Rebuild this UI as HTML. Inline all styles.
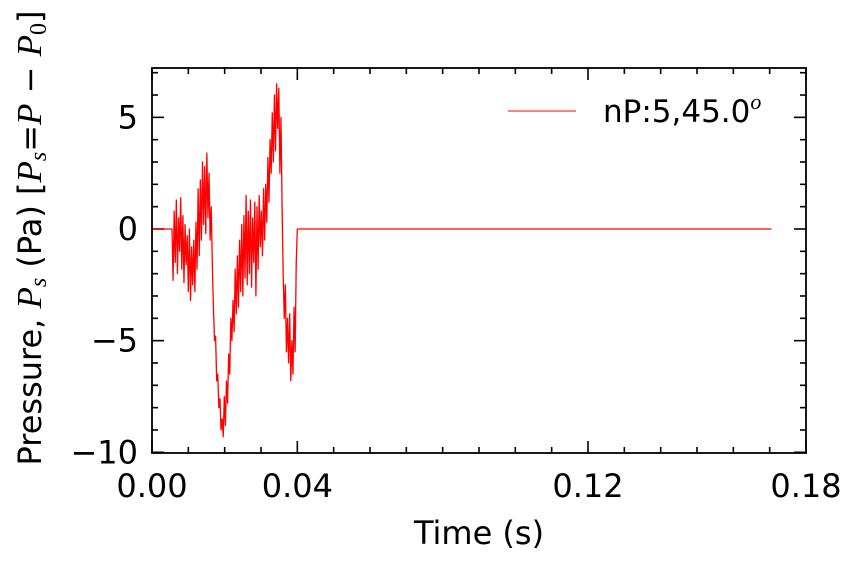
<!DOCTYPE html>
<html><head><meta charset="utf-8"><style>
body{margin:0;background:#fff;}
svg text{font-family:"DejaVu Sans","Liberation Sans",sans-serif;fill:#000;}
</style></head><body>
<svg id="chart" width="857" height="566" viewBox="0 0 857 566" xmlns="http://www.w3.org/2000/svg">
<g id="ticks"></g>
<g id="labels"></g>
<path id="series" fill="none" stroke="#ff0000" stroke-width="1.3" stroke-linejoin="round"/>
<rect x="152" y="68" width="654" height="385" fill="none" stroke="#000" stroke-width="1.8"/>
<text x="479" y="544" font-size="32" text-anchor="middle">Time (s)</text>
<text transform="translate(41,238) rotate(-90)" font-size="32" text-anchor="middle">Pressure, <tspan font-family="Liberation Serif" font-style="italic" font-size="35">P</tspan><tspan font-family="Liberation Serif" font-style="italic" font-size="24" dy="5">s</tspan><tspan dy="-5"> (Pa) [</tspan><tspan font-family="Liberation Serif" font-style="italic" font-size="35">P</tspan><tspan font-family="Liberation Serif" font-style="italic" font-size="24" dy="5">s</tspan><tspan dy="-5">=</tspan><tspan font-family="Liberation Serif" font-style="italic" font-size="35">P</tspan><tspan> − </tspan><tspan font-family="Liberation Serif" font-style="italic" font-size="35">P</tspan><tspan font-family="Liberation Serif" font-size="24" dy="5">0</tspan><tspan dy="-5">]</tspan></text>
<g>
<line x1="508" y1="111" x2="576" y2="111" stroke="#ff0000" stroke-width="1"/>
<text x="603" y="122" font-size="31">nP:5,45.0<tspan font-family="Liberation Serif" font-style="italic" font-size="22" dy="-13">o</tspan></text>
</g>
</svg>
<script>
const xTicks=[0.00,0.04,0.12,0.18];
const xTickLabels=["0.00","0.04","0.12","0.18"];
const yTicks=[5,0,-5,-10];
const yTickLabels=["5","0","\u22125","\u221210"];
const t0=0.0055, dt=0.0003;
const pressure=[0,-2.3,0.8,-1.5,1.3,-2.0,0.5,-1.0,1.4,-1.8,
0.6,-2.4,0.2,-1.6,-0.3,-2.8,0.0,-3.2,-0.8,-2.5,
-0.5,-2.8,0.3,-1.8,1.8,-1.2,2.2,-0.5,3.0,0.2,
2.8,-0.2,3.4,0.5,2.5,-0.5,1.0,-1.5,-3.5,-5.0,
-4.8,-6.8,-6.5,-8.0,-7.6,-9.0,-8.5,-9.3,-7.5,-8.8,
-6.8,-7.8,-5.6,-6.5,-4.0,-5.0,-3.2,-4.6,-1.8,-3.8,
-1.2,-3.5,-0.5,-2.8,0.2,-3.0,0.6,-2.2,1.5,-2.5,
0.8,-2.0,1.3,-2.6,0.5,-1.5,1.2,-3.0,1.0,-1.8,
1.5,-0.8,0.8,-1.2,1.8,-0.5,2.0,0.3,3.2,1.2,
4.0,2.5,5.2,3.0,6.0,3.5,6.5,4.5,6.3,2.5,
5.0,1.0,-2.0,-4.0,-2.5,-5.5,-4.0,-6.0,-3.8,-6.8,
-5.0,-6.5,-3.5,-5.5,-1.5,0];
const tEnd=0.1705;
const X=t=>152+(t-0)/0.18*654;
const Y=v=>229-v*22.33;
const NS="http://www.w3.org/2000/svg";
let d="M"+X(0)+","+Y(0);
pressure.forEach((v,i)=>{d+=" L"+X(t0+i*dt).toFixed(2)+","+Y(v).toFixed(2);});
d+=" L"+X(tEnd)+","+Y(0);
document.getElementById('series').setAttribute('d',d);
const tg=document.getElementById('ticks'), lg=document.getElementById('labels');
function ln(x1,y1,x2,y2,w,name){const l=document.createElementNS(NS,'line');
l.setAttribute('x1',x1);l.setAttribute('y1',y1);l.setAttribute('x2',x2);l.setAttribute('y2',y2);
l.setAttribute('stroke','#000');l.setAttribute('stroke-width',w);


tg.appendChild(l);}
for(let k=0;k<=18;k++){const x=X(k*0.01);const major=xTicks.some(v=>Math.abs(v-k*0.01)<1e-9);const L=major?12:6;
ln(x,453,x,453-L,1.6,'x-tick');ln(x,68,x,68+L,1.6,'x-tick-top');}
for(let v=-10;v<=7;v++){const y=Y(v);const major=yTicks.includes(v);const L=major?12:6;
ln(152,y,152+L,y,1.6,'y-tick');ln(806,y,806-L,y,1.6,'y-tick-right');}
function tx(x,y,s,anchor,name){const e=document.createElementNS(NS,'text');
e.setAttribute('x',x);e.setAttribute('y',y);e.setAttribute('font-size','32');e.setAttribute('text-anchor',anchor);e.textContent=s;


lg.appendChild(e);}
xTicks.forEach((v,i)=>tx(X(v),497,xTickLabels[i],'middle','x-tick-label'));
yTicks.forEach((v,i)=>tx(138,Y(v)+11,yTickLabels[i],'end','y-tick-label'));
</script>
</body></html>
